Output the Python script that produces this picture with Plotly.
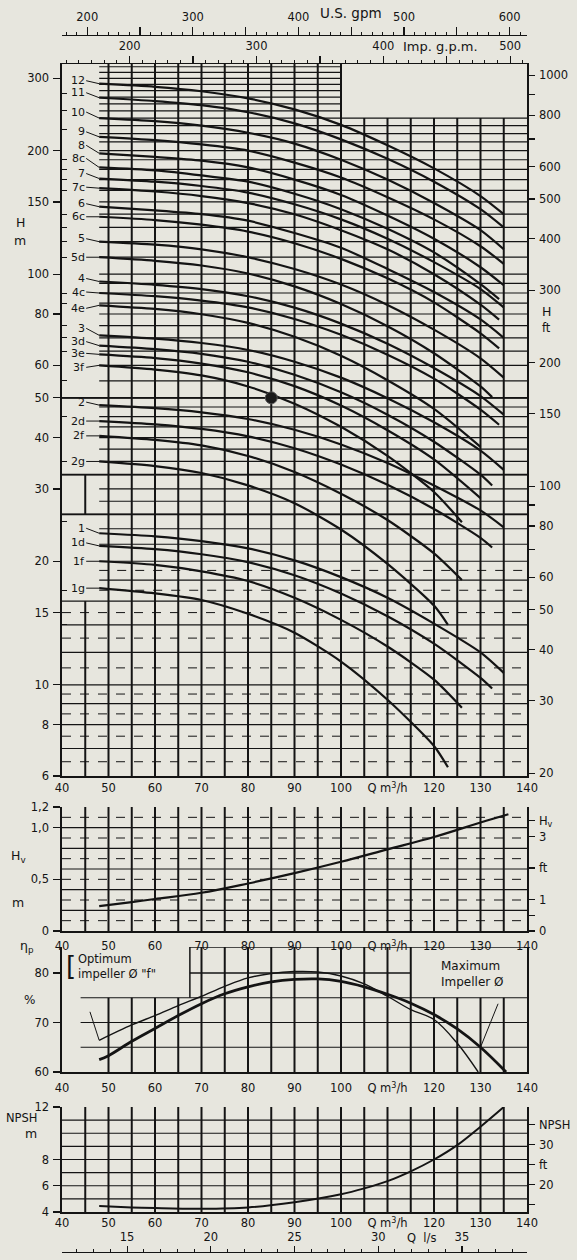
import math
import plotly.graph_objects as go

W, HT = 577, 1260
BG = "#e7e6de"
INK = "#141414"
FONT = "DejaVu Sans, Liberation Sans, Arial, sans-serif"
M_PER_FT = 0.3048
M3H_PER_USGPM = 0.2271247
M3H_PER_IMPGPM = 0.2727654
M3H_PER_LS = 3.6

# ---------------- Q-H curves ----------------
Q_FULL = [48, 60, 70, 80, 90, 100, 110, 120, 130, 135]
Q_TRIM_C = [48, 60, 70, 80, 90, 100, 110, 120, 130, 134]
Q_TRIM_D = [48, 60, 70, 80, 90, 100, 110, 120, 130, 132.5]
Q_TRIM_E = [48, 60, 70, 80, 90, 100, 110, 120, 130]
Q_TRIM_F = [48, 60, 70, 80, 90, 100, 110, 120, 126]
Q_TRIM_G = [48, 60, 70, 80, 90, 100, 110, 120, 123]

H_12 = [291, 286, 279, 268, 252, 231, 206, 181, 155, 140]
H_11 = [269, 264, 258, 248, 233, 213, 191, 168, 144, 130]
H_10 = [240, 236, 230, 221, 208, 190, 170, 149, 128, 115]
H_9 = [216, 212, 207, 200, 187, 172, 154, 136, 117, 106]
H_8 = [197, 193, 189, 182, 170, 156, 139, 122, 104, 94]
H_8C = [182, 179, 174, 168, 157, 144, 129, 113, 94.6, 87]
H_7 = [171, 168, 164, 158, 148, 136, 122, 107, 92, 83]
H_7C = [162, 159, 155, 149, 140, 128, 115, 100, 84.3, 77.5]
H_6 = [146, 143, 140, 135, 126, 116, 103, 90.5, 77.6, 70]
H_6C = [138, 135.5, 132, 127, 119, 109, 97.7, 85.4, 71.8, 66]
H_5 = [120, 118, 115, 110, 103, 94.4, 84.2, 73.3, 62.4, 56]
H_5D = [110, 107.8, 105, 100.4, 93.4, 84.6, 74.7, 64.2, 53.3, 50.2]
H_4 = [96, 94.2, 92, 88.4, 82.9, 75.8, 67.7, 59.1, 50.5, 45.5]
H_4C = [90, 88.4, 86.2, 83, 77.8, 71.2, 63.7, 55.7, 46.8, 43]
H_4E = [84, 82.3, 79.9, 76.1, 70.4, 63.3, 55.2, 47.0, 38]
H_3 = [71, 69.7, 68, 65.4, 61.2, 56, 49.9, 43.6, 37.2, 33.4]
H_3D = [67, 65.7, 64, 61.2, 56.9, 51.6, 45.5, 39.1, 32.5, 30.6]
H_3E = [63.8, 62.5, 60.6, 57.7, 53.4, 47.9, 41.7, 35.4, 28.5]
H_3F = [60, 58.6, 56.7, 53.3, 48.4, 42.5, 36.1, 29.5, 24.9]
H_2 = [48, 47.2, 46.1, 44.4, 41.8, 38.5, 34.7, 30.6, 26.6, 24.2]
H_2D = [43.9, 43.1, 42.0, 40.3, 37.7, 34.4, 30.7, 26.8, 22.8, 21.6]
H_2F = [40.4, 39.5, 38.3, 36.1, 33.0, 29.2, 25.2, 20.9, 18.0]
H_2G = [35, 34.1, 32.8, 30.6, 27.7, 23.9, 19.7, 15.6, 14.0]
H_1 = [23.4, 23.0, 22.4, 21.5, 20.1, 18.3, 16.3, 14.1, 12.0, 10.7]
H_1D = [21.8, 21.4, 20.8, 19.9, 18.5, 16.7, 14.7, 12.6, 10.4, 9.8]
H_1F = [20, 19.6, 18.9, 17.9, 16.3, 14.4, 12.4, 10.3, 8.8]
H_1G = [17.2, 16.7, 16.1, 14.9, 13.4, 11.4, 9.2, 7.1, 6.3]

CURVE_LABELS = ["12", "11", "10", "9", "8", "8c", "7", "7c", "6", "6c", "5", "5d",
                "4", "4c", "4e", "3", "3d", "3e", "3f", "2", "2d", "2f", "2g",
                "1", "1d", "1f", "1g"]
# vertical offset (px) of each label relative to the start of its curve
LABEL_DY = [-3, -5, -6, -5, -8, -9, -5, -1, -3, 0, -3, 0,
            -3, -1, 3, -7, -4, -1, 2, -3, 0, 0, 0,
            -5, -3, 0, 0]
CURVE_Q = [Q_FULL, Q_FULL, Q_FULL, Q_FULL, Q_FULL, Q_TRIM_C, Q_FULL, Q_TRIM_C, Q_FULL, Q_TRIM_C,
           Q_FULL, Q_TRIM_D, Q_FULL, Q_TRIM_C, Q_TRIM_E, Q_FULL, Q_TRIM_D, Q_TRIM_E, Q_TRIM_F,
           Q_FULL, Q_TRIM_D, Q_TRIM_F, Q_TRIM_G, Q_FULL, Q_TRIM_D, Q_TRIM_F, Q_TRIM_G]
CURVE_H = [H_12, H_11, H_10, H_9, H_8, H_8C, H_7, H_7C, H_6, H_6C, H_5, H_5D,
           H_4, H_4C, H_4E, H_3, H_3D, H_3E, H_3F, H_2, H_2D, H_2F, H_2G,
           H_1, H_1D, H_1F, H_1G]

DUTY_Q = [85]
DUTY_H = [50]

# ---------------- lower panels ----------------
HV_Q = [48, 55, 60, 70, 80, 90, 100, 110, 120, 130, 136]
HV_M = [0.24, 0.28, 0.31, 0.37, 0.46, 0.56, 0.67, 0.79, 0.91, 1.05, 1.13]

EFF_Q_MAX = [48, 50, 55, 60, 65, 70, 75, 80, 85, 90, 95, 100, 105, 110, 115, 120, 125, 130, 135.5]
EFF_MAX = [62.5, 63.3, 66.2, 68.8, 71.4, 73.8, 75.8, 77.2, 78.2, 78.7, 78.8, 78.3, 77.2, 75.7, 73.9, 71.6, 68.7, 65.0, 60.0]
EFF_Q_OPT = [48, 55, 60, 65, 70, 75, 80, 85, 90, 95, 100, 105, 110, 115, 120, 125, 129.5]
EFF_OPT = [66.4, 69.5, 71.4, 73.4, 75.3, 77.3, 79.0, 79.9, 80.3, 80.2, 79.4, 77.8, 75.3, 72.6, 70.6, 65.8, 60.0]

NPSH_Q = [48, 55, 60, 70, 80, 90, 100, 105, 110, 115, 120, 125, 130, 135]
NPSH_M = [4.45, 4.35, 4.3, 4.25, 4.35, 4.75, 5.35, 5.8, 6.35, 7.1, 8.0, 9.1, 10.5, 12.0]

# ---------------- ticks / grid values ----------------
Q_TICKS = [40, 50, 60, 70, 80, 90, 100, 110, 120, 130, 140]
Q_TICKTEXT = ["40", "50", "60", "70", "80", "90", "100", "Q m<sup>3</sup>/h", "120", "130", "140"]
H_TICKS = [6, 8, 10, 15, 20, 30, 40, 50, 60, 80, 100, 150, 200, 300]
H_MINOR = [7, 9, 12, 14, 17, 25, 35, 45, 55, 65, 70, 75, 85, 90, 110, 120, 130, 140, 160, 170,
           180, 190, 225, 250, 275]
HFT_TICKS = [20, 30, 40, 50, 60, 70, 80, 90, 100, 150, 200, 300, 400, 500, 600, 700, 800, 900, 1000]
HFT_TEXT = ["20", "30", "40", "50", "60", "", "80", "", "100", "150", "200", "300", "400", "500",
            "600", "", "800", "", "1000"]
USGPM_TICKS = [200, 250, 300, 350, 400, 450, 500, 550, 600]
USGPM_TEXT = ["200", "", "300", "", "400", "", "500", "", "600"]
IMPGPM_TICKS = [200, 250, 300, 350, 400, 450, 500]
IMPGPM_TEXT = ["200", "", "300", "", "400", "", "500"]
LS_TICKS = [15, 20, 25, 30, 35]
HV_TICKS = [0, 0.5, 1.0, 1.2]
HV_TEXT = ["0", "0,5", "1,0", "1,2"]
HVFT_TICKS = [0, 0.5, 1, 2, 3, 3.5]
HVFT_TEXT = ["0", "", "1", "ft", "3", "H<sub>v</sub>"]
EFF_TICKS = [60, 70, 80]
NPSH_TICKS = [4, 6, 8, 12]
NPSHFT_TICKS = [15, 20, 25, 30, 35]
NPSHFT_TEXT = ["", "20", "ft", "30", "NPSH"]

Q_GRID = [50, 55, 60, 65, 70, 75, 80, 85, 90, 95, 100, 105, 110, 115, 120, 125, 130, 135]
Q_GRID_LOW = [45, 50, 55, 60, 65, 70, 75, 80, 85, 90, 95, 100, 105, 110, 115, 120, 125, 130, 135]
H_GRID_SOLID = [7, 8, 9, 10, 12, 14, 16, 18, 20, 22, 24, 26, 28, 30, 32.5, 35, 37.5, 40, 42.5, 45,
                47.5, 50, 55, 60, 65, 70, 75, 80, 85, 90, 95, 100, 110, 120, 130, 140, 150, 160,
                170, 180, 190, 200, 210, 220, 230, 240, 250, 260, 270, 280, 290, 300, 310, 320]
H_GRID_DASH = [6.5, 7.5, 8.5, 9.5, 11, 13, 15, 17, 19]
H_GRID_LONG = [26, 32.5, 50]
HV_GRID_SOLID = [0.2, 0.4, 0.6, 0.8, 1.0]
HV_GRID_DASH = [0.1, 0.3, 0.5, 0.7, 0.9, 1.1]
EFF_GRID = [65, 70, 75]
NPSH_GRID = [5, 6, 7, 8, 9, 10, 11]

H_RANGE = [6, 325]
HV_RANGE = [0, 1.2]
EFF_RANGE = [60, 85.25]
NPSH_RANGE = [4, 12]
H_BOX = 240     # blank box in the upper right of the main chart
Q_BOX = 100
H_OPEN = 16     # below this the grid reaches the left axis

fig = go.Figure()


def px_x(p):
    return p / W


def px_y(p):
    return 1 - p / HT


def add_lines(xs, ys, xa, ya, width=1.2, dash="solid"):
    fig.add_trace(go.Scatter(x=xs, y=ys, xaxis=xa, yaxis=ya, mode="lines",
                             line=dict(color=INK, width=width, dash=dash),
                             hoverinfo="skip", showlegend=False))


def hsegs(values, x0f, x1f):
    xs, ys = [], []
    for v in values:
        xs += [x0f(v), x1f(v), None]
        ys += [v, v, None]
    return xs, ys


def vsegs(values, y0f, y1f):
    xs, ys = [], []
    for v in values:
        xs += [v, v, None]
        ys += [y0f(v), y1f(v), None]
    return xs, ys


# ---------- main grid ----------
def main_x0(h):
    return 40 if (h <= H_OPEN or h in H_GRID_LONG) else 48


def main_x1(h):
    return Q_BOX if h > H_BOX else 140


xs, ys = hsegs(H_GRID_SOLID, main_x0, main_x1)
add_lines(xs, ys, "x", "y", 1.2)
xs, ys = hsegs(H_GRID_DASH, main_x0, main_x1)
add_lines(xs, ys, "x", "y", 1.0, "dash")
xs, ys = hsegs(H_GRID_LONG, main_x0, main_x1)
add_lines(xs, ys, "x", "y", 1.8)
xs, ys = vsegs(Q_GRID, lambda q: H_RANGE[0], lambda q: H_RANGE[1] if q <= Q_BOX else H_BOX)
add_lines(xs, ys, "x", "y", 2.0)
add_lines([45, 45, None, 45, 45], [H_RANGE[0], H_OPEN, None, H_GRID_LONG[0], H_GRID_LONG[1]], "x", "y", 2.0)

# ---------- main curves ----------
for lab, qv, hv in zip(CURVE_LABELS, CURVE_Q, CURVE_H):
    fig.add_trace(go.Scatter(x=qv, y=hv, xaxis="x", yaxis="y", mode="lines",
                             line=dict(color=INK, width=2.2, shape="spline", smoothing=0.7),
                             hoverinfo="skip", showlegend=False, name=lab))
fig.add_trace(go.Scatter(x=DUTY_Q, y=DUTY_H, xaxis="x", yaxis="y", mode="markers",
                         marker=dict(symbol="circle", size=12, color="#1a1a1a",
                                     line=dict(color="#555", width=1)),
                         hoverinfo="skip", showlegend=False))
# dummies for overlay axes
for xa, ya in [("x2", "y"), ("x3", "y"), ("x", "y2"), ("x4", "y4"), ("x6", "y7"), ("x7", "y6")]:
    fig.add_trace(go.Scatter(x=[None], y=[None], xaxis=xa, yaxis=ya, mode="lines",
                             hoverinfo="skip", showlegend=False))

# ---------- Hv panel ----------
xs, ys = hsegs(HV_GRID_SOLID, lambda v: 40, lambda v: 140)
add_lines(xs, ys, "x4", "y3", 1.2)
xs, ys = hsegs(HV_GRID_DASH, lambda v: 40, lambda v: 140)
add_lines(xs, ys, "x4", "y3", 1.0, "dash")
xs, ys = vsegs(Q_GRID_LOW, lambda q: HV_RANGE[0], lambda q: HV_RANGE[1])
add_lines(xs, ys, "x4", "y3", 2.0)
fig.add_trace(go.Scatter(x=HV_Q, y=HV_M, xaxis="x4", yaxis="y3", mode="lines",
                         line=dict(color=INK, width=2.2, shape="spline"), hoverinfo="skip",
                         showlegend=False))

# ---------- efficiency panel ----------
xs, ys = hsegs(EFF_GRID, lambda v: 44, lambda v: 140)
add_lines(xs, ys, "x5", "y5", 1.2)
add_lines([67.5, 115, None, 67.5, 140], [80, 80, None, EFF_RANGE[1], EFF_RANGE[1]], "x5", "y5", 1.5)
xs, ys = vsegs(Q_GRID, lambda q: EFF_RANGE[0], lambda q: EFF_RANGE[1] if 70 <= q <= 115 else 75)
add_lines(xs, ys, "x5", "y5", 2.0)
add_lines([67.5, 67.5], [75, EFF_RANGE[1]], "x5", "y5", 1.5)
fig.add_trace(go.Scatter(x=EFF_Q_OPT, y=EFF_OPT, xaxis="x5", yaxis="y5", mode="lines",
                         line=dict(color=INK, width=1.4, shape="spline"), hoverinfo="skip",
                         showlegend=False))
fig.add_trace(go.Scatter(x=EFF_Q_MAX, y=EFF_MAX, xaxis="x5", yaxis="y5", mode="lines",
                         line=dict(color=INK, width=2.8, shape="spline"), hoverinfo="skip",
                         showlegend=False))

# ---------- NPSH panel ----------
xs, ys = hsegs(NPSH_GRID, lambda v: 40, lambda v: 140)
add_lines(xs, ys, "x6", "y6", 1.2)
xs, ys = vsegs(Q_GRID_LOW, lambda q: NPSH_RANGE[0], lambda q: NPSH_RANGE[1])
add_lines(xs, ys, "x6", "y6", 2.0)
fig.add_trace(go.Scatter(x=NPSH_Q, y=NPSH_M, xaxis="x6", yaxis="y6", mode="lines",
                         line=dict(color=INK, width=2.0, shape="spline"), hoverinfo="skip",
                         showlegend=False, cliponaxis=True))

# ---------- axes ----------
XDOM = [px_x(62), px_x(527)]
TF = dict(family=FONT, size=11.5, color=INK)


def qaxis(anchor, standoff):
    return dict(domain=XDOM, range=[40, 140], anchor=anchor, showgrid=False, zeroline=False,
                showline=True, linecolor=INK, linewidth=1.6, tickmode="array",
                tickvals=Q_TICKS, ticktext=Q_TICKTEXT, ticks="", ticklen=0,
                ticklabelstandoff=standoff, tickfont=TF, fixedrange=True, automargin=False)


def yax(dom, rng, tv, tt, **kw):
    d = dict(domain=dom, range=rng, showgrid=False, zeroline=False, showline=True,
             linecolor=INK, linewidth=1.6, tickmode="array", tickvals=tv, ticktext=tt,
             ticks="outside", ticklen=7, tickwidth=1.2, tickcolor=INK, tickfont=TF,
             ticklabelstandoff=2, fixedrange=True, automargin=False)
    d.update(kw)
    return d


def topaxis(rng, tv, tt, ticklen, minor_t0, minor_dt, standoff=1, **kw):
    d = dict(range=rng, side="top", showgrid=False, zeroline=False, showline=True,
             linecolor=INK, linewidth=1.4, tickmode="array", tickvals=tv, ticktext=tt,
             ticks="outside", ticklen=ticklen, tickwidth=1.2, tickcolor=INK, tickfont=TF,
             ticklabelstandoff=standoff, automargin=False, fixedrange=True,
             minor=dict(tickmode="linear", tick0=minor_t0, dtick=minor_dt, ticks="outside",
                        ticklen=3, tickcolor=INK, tickwidth=1))
    d.update(kw)
    return d


main_dom = [px_y(776), px_y(64)]
hv_dom = [px_y(931), px_y(807)]
eff_dom = [px_y(1072), px_y(947)]
npsh_dom = [px_y(1212), px_y(1107)]

fig.update_layout(
    template="none",
    width=W, height=HT, margin=dict(l=0, r=0, t=0, b=0, autoexpand=False),
    paper_bgcolor=BG, plot_bgcolor=BG, showlegend=False,
    font=dict(family=FONT, size=11.5, color=INK),
    xaxis=qaxis("y", 1),
    xaxis2=topaxis([40 / M3H_PER_IMPGPM, 140 / M3H_PER_IMPGPM], IMPGPM_TICKS, IMPGPM_TEXT, 7,
                   150, 10, overlaying="x", anchor="y"),
    xaxis3=topaxis([40 / M3H_PER_USGPM, 140 / M3H_PER_USGPM], USGPM_TICKS, USGPM_TEXT, 8,
                   200, 10, overlaying="x", anchor="free", position=px_y(35)),
    yaxis=yax(main_dom, [math.log10(H_RANGE[0]), math.log10(H_RANGE[1])], H_TICKS,
              [str(v) for v in H_TICKS], type="log", anchor="x",
              minor=dict(tickvals=H_MINOR, ticks="inside", ticklen=5, tickcolor=INK, tickwidth=1)),
    yaxis2=yax(main_dom, [math.log10(H_RANGE[0] / M_PER_FT), math.log10(H_RANGE[1] / M_PER_FT)],
               HFT_TICKS, HFT_TEXT, type="log", overlaying="y", side="right", anchor="x",
               ticklen=6),
    xaxis4=qaxis("y3", 4),
    yaxis3=yax(hv_dom, HV_RANGE, HV_TICKS, HV_TEXT, anchor="x4"),
    yaxis4=yax(hv_dom, [HV_RANGE[0] / M_PER_FT, HV_RANGE[1] / M_PER_FT], HVFT_TICKS, HVFT_TEXT,
               overlaying="y3", side="right", anchor="x4", ticklen=6),
    xaxis5=qaxis("y5", 5),
    yaxis5=yax(eff_dom, EFF_RANGE, EFF_TICKS, [str(v) for v in EFF_TICKS], anchor="x5",
               mirror=True),
    xaxis6=qaxis("y6", 0),
    yaxis6=yax(npsh_dom, NPSH_RANGE, NPSH_TICKS, [str(v) for v in NPSH_TICKS], anchor="x6",
               mirror=True),
    yaxis7=yax(npsh_dom, [NPSH_RANGE[0] / M_PER_FT, NPSH_RANGE[1] / M_PER_FT], NPSHFT_TICKS,
               NPSHFT_TEXT, overlaying="y6", side="right", anchor="x6", ticklen=6),
    xaxis7=topaxis([40 / M3H_PER_LS, 140 / M3H_PER_LS], LS_TICKS, [str(v) for v in LS_TICKS], 6,
                   11, 1, standoff=0, overlaying="x6", anchor="free", position=px_y(1252)),
)

# ---------- annotations ----------
ann = []
for lab, dy, qv, hv in zip(CURVE_LABELS, LABEL_DY, CURVE_Q, CURVE_H):
    ann.append(dict(x=qv[0], y=math.log10(hv[0]), xref="x", yref="y", text=lab,
                    showarrow=True, arrowhead=0, arrowwidth=1, arrowcolor=INK, ax=-13, ay=dy,
                    xanchor="right", yanchor="middle", borderpad=0,
                    font=dict(family=FONT, size=11, color=INK), standoff=0))


def txt(x, y, t, size=11.5, xanchor="center", align="center"):
    ann.append(dict(x=px_x(x), y=px_y(y), xref="paper", yref="paper", text=t, showarrow=False,
                    xanchor=xanchor, yanchor="middle", align=align,
                    font=dict(family=FONT, size=size, color=INK)))


txt(20, 222, "H", 12.5)
txt(20, 240, "m", 12.5)
txt(546, 311, "H", 12.5)
txt(546, 328, "ft", 11.5)
txt(18, 856, "H<sub>v</sub>", 12.5)
txt(18, 902, "m", 12.5)
txt(27, 946, "η<sub>p</sub>", 12.5)
txt(29, 1000, "%", 12)
txt(22, 1118, "NPSH", 11.5)
txt(31, 1133, "m", 12.5)
txt(64, 966, "[", 26, xanchor="left")
txt(76, 966, "Optimum<br>impeller Ø \"f\"", 11.5, xanchor="left", align="left")
txt(472, 974, "Maximum<br>Impeller Ø", 12, xanchor="center", align="left")
ann.append(dict(x=450, y=px_y(13), xref="x3", yref="paper", text="U.S. gpm", showarrow=False,
                yanchor="middle", font=dict(family=FONT, size=13.5, color=INK)))
ann.append(dict(x=445, y=px_y(47), xref="x2", yref="paper", text="Imp. g.p.m.", showarrow=False,
                yanchor="middle", font=dict(family=FONT, size=13, color=INK)))
ann.append(dict(x=32.6, y=px_y(1238), xref="x7", yref="paper", text="Q  l/s", showarrow=False,
                yanchor="middle", font=dict(family=FONT, size=11.5, color=INK)))
ann.append(dict(x=EFF_Q_OPT[0], y=EFF_OPT[0], xref="x5", yref="y5", text=" ", showarrow=True,
                arrowhead=0, arrowwidth=1, arrowcolor=INK, ax=-12, ay=-37, standoff=0))
ann.append(dict(x=EFF_Q_MAX[17], y=EFF_MAX[17], xref="x5", yref="y5", text=" ", showarrow=True,
                arrowhead=0, arrowwidth=1, arrowcolor=INK, ax=21, ay=-52, standoff=0))
fig.update_layout(annotations=ann)

fig.write_html("out.html", config={"displayModeBar": False, "staticPlot": True},
               post_script="document.body.style.margin='0';document.body.style.background='" + BG + "';")
